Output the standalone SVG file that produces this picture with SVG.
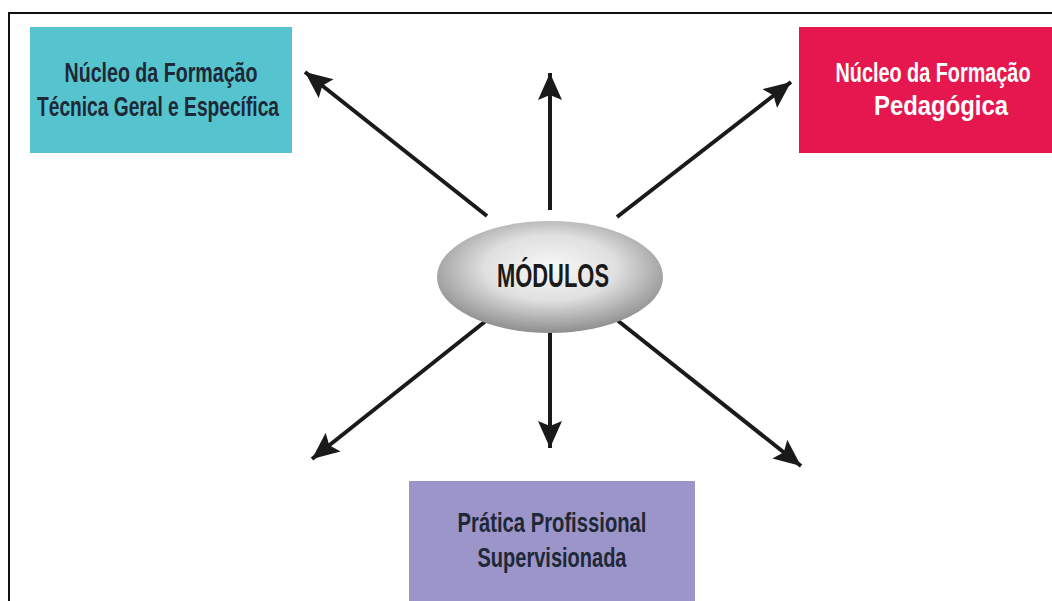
<svg xmlns="http://www.w3.org/2000/svg" width="1052" height="601" viewBox="0 0 1052 601">
<style>
.t{font-family:"Liberation Sans Narrow","Liberation Sans",Arial,sans-serif;font-weight:bold;text-anchor:middle}
.dark{fill:#1e2836}
.light{fill:#ffffff}
.arr{stroke:#1a1a1a;stroke-width:4;fill:none;marker-end:url(#ah)}
</style>
<defs>
<marker id="ah" markerUnits="userSpaceOnUse" markerWidth="32" markerHeight="26" refX="27" refY="12" orient="auto">
<path d="M0,0 L27,12 L0,24 L5,12 Z" fill="#1a1a1a"/>
</marker>
<radialGradient id="eg" cx="0.5" cy="0.42" r="0.58">
<stop offset="0" stop-color="#f8f8f8"/>
<stop offset="0.5" stop-color="#e0e0e0"/>
<stop offset="1" stop-color="#8e8e8e"/>
</radialGradient>
</defs>
<rect x="9" y="13" width="1100" height="700" fill="none" stroke="#111" stroke-width="2"/>
<g id="connectors">
<line class="arr" x1="487" y1="216" x2="305" y2="72"/>
<line class="arr" x1="550" y1="210" x2="550" y2="73"/>
<line class="arr" x1="617" y1="217" x2="791" y2="82"/>
<line class="arr" x1="487" y1="320" x2="312" y2="459"/>
<line class="arr" x1="550" y1="333" x2="550" y2="448"/>
<line class="arr" x1="617" y1="320" x2="801" y2="466"/>
</g>
<g id="node-tecnica">
<rect x="30" y="27" width="262" height="126" fill="#56c4cf"/>
<text class="t dark" x="161" y="82" font-size="28" textLength="193" lengthAdjust="spacingAndGlyphs">Núcleo da Formação</text>
<text class="t dark" x="158" y="116" font-size="28" textLength="242" lengthAdjust="spacingAndGlyphs">Técnica Geral e Específica</text>
</g>
<g id="node-pedagogica">
<rect x="799" y="27" width="253" height="126" fill="#e6174e"/>
<text class="t light" x="933" y="82" font-size="28" textLength="195" lengthAdjust="spacingAndGlyphs">Núcleo da Formação</text>
<text class="t light" x="941" y="115" font-size="28" textLength="134" lengthAdjust="spacingAndGlyphs">Pedagógica</text>
</g>
<g id="node-pratica">
<rect x="409" y="481" width="286" height="130" fill="#9b95c9"/>
<text class="t dark" x="552" y="532" font-size="28" textLength="189" lengthAdjust="spacingAndGlyphs">Prática Profissional</text>
<text class="t dark" x="552" y="567" font-size="28" textLength="149" lengthAdjust="spacingAndGlyphs">Supervisionada</text>
</g>
<g id="node-modulos">
<ellipse cx="550" cy="277" rx="113" ry="56" fill="url(#eg)"/>
<text class="t" fill="#1a1a1a" x="553" y="287" font-size="33" textLength="112" lengthAdjust="spacingAndGlyphs">MÓDULOS</text>
</g>
</svg>
